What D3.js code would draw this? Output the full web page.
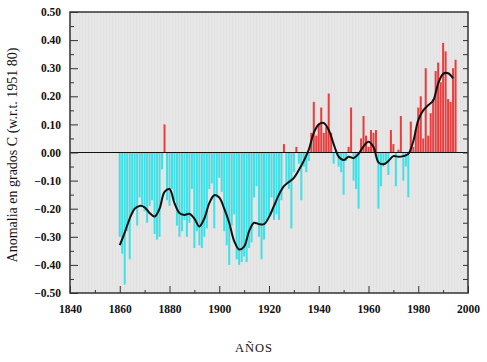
<!DOCTYPE html>
<html>
<head>
<meta charset="utf-8">
<script src="https://cdn.jsdelivr.net/npm/d3@7"></script>
<style>
  body { margin: 0; background: #fff; }
  text { font-family: "Liberation Serif", "Times New Roman", serif; }
</style>
</head>
<body>
<div id="chart"></div>
<script>
// annual anomalies 1860..1995
var firstYear = 1860
var anomalies = [
  -0.30, -0.36, -0.47, -0.28, -0.38, -0.22, -0.20, -0.26, -0.16, -0.19,
  -0.21, -0.25, -0.19, -0.17, -0.29, -0.31, -0.30, -0.06, 0.10, -0.17,
  -0.19, -0.13, -0.17, -0.26, -0.30, -0.28, -0.24, -0.30, -0.25, -0.13,
  -0.34, -0.28, -0.33, -0.34, -0.30, -0.27, -0.13, -0.11, -0.27, -0.16,
  -0.09, -0.14, -0.28, -0.33, -0.40, -0.26, -0.22, -0.38, -0.40, -0.39,
  -0.37, -0.39, -0.34, -0.32, -0.16, -0.12, -0.30, -0.38, -0.31, -0.24,
  -0.23, -0.16, -0.24, -0.22, -0.24, -0.17, 0.03, -0.11, -0.13, -0.27,
  -0.07, 0.02, -0.04, -0.17, -0.05, -0.07, -0.03, 0.07, 0.18, 0.06,
  0.10, 0.16, 0.07, 0.09, 0.21, 0.07, -0.04, 0.01, -0.05, -0.07,
  -0.15, -0.03, 0.02, 0.16, -0.10, -0.13, -0.20, 0.05, 0.13, 0.06,
  0.02, 0.08, 0.07, 0.08, -0.20, -0.12, -0.05, -0.03, -0.08, 0.08,
  0.03, -0.12, 0.01, 0.13, -0.10, -0.05, -0.16, 0.11, 0.02, 0.08,
  0.16, 0.20, 0.05, 0.30, 0.06, 0.14, 0.19, 0.29, 0.32, 0.25,
  0.39, 0.36, 0.19, 0.18, 0.30, 0.33
]

// smoothed curve, read every 2 years
var smoothYears = d3.range(1860, 1996, 2)
var smoothValues = [
  -0.33, -0.285, -0.235, -0.20, -0.19, -0.195, -0.215, -0.228, -0.20, -0.14,
  -0.13, -0.18, -0.215, -0.222, -0.218, -0.235, -0.263, -0.235, -0.18, -0.152,
  -0.16, -0.20, -0.25, -0.315, -0.345, -0.335, -0.28, -0.25, -0.255, -0.255,
  -0.23, -0.19, -0.15, -0.12, -0.105, -0.09, -0.062, -0.03, 0.01, 0.07,
  0.10, 0.105, 0.08, 0.03, -0.015, -0.027, -0.015, -0.02, -0.005, 0.022,
  0.038, 0.02, -0.035, -0.042, -0.03, -0.013, -0.015, -0.013, -0.005, 0.04,
  0.115, 0.15, 0.168, 0.185, 0.245, 0.28, 0.282, 0.264
]

var xTicks = [1840, 1860, 1880, 1900, 1920, 1940, 1960, 1980, 2000]
var yTicks = [0.5, 0.4, 0.3, 0.2, 0.1, 0, -0.1, -0.2, -0.3, -0.4, -0.5]

var width = 487, height = 362
var pLeft = 70, pRight = 468, pTop = 12, pBottom = 293

var svg = d3.select('#chart').append('svg')
  .attr('width', width).attr('height', height)

var x = d3.scaleLinear().domain([1840, 2000]).range([pLeft, pRight])
var y = d3.scaleLinear().domain([-0.5, 0.5]).range([pBottom, pTop])

svg.append('rect')
  .attr('x', pLeft).attr('y', pTop)
  .attr('width', pRight - pLeft).attr('height', pBottom - pTop)
  .attr('fill', '#e2e2e2')

// faint vertical texture
svg.append('g').selectAll('line').data(d3.range(pLeft + 2, pRight, 3))
  .enter().append('line')
    .attr('x1', d => d).attr('x2', d => d)
    .attr('y1', pTop).attr('y2', pBottom)
    .attr('stroke', '#ebebeb').attr('stroke-width', 1)

var data = anomalies.map((v, i) => ({year: firstYear + i, value: v}))

svg.append('g').selectAll('rect').data(data)
  .enter().append('rect')
    .attr('x', d => x(d.year) - 1)
    .attr('width', 2)
    .attr('y', d => y(Math.max(0, d.value)))
    .attr('height', d => Math.abs(y(d.value) - y(0)))
    .attr('fill', d => d.value < 0 ? '#3fe0e6' : '#ec3b3b')

svg.append('line')
  .attr('x1', pLeft).attr('x2', pRight)
  .attr('y1', y(0)).attr('y2', y(0))
  .attr('stroke', '#111').attr('stroke-width', 1.2)

var line = d3.line()
  .x((d, i) => x(smoothYears[i]))
  .y(d => y(d))
  .curve(d3.curveCatmullRom)

svg.append('path')
  .datum(smoothValues)
  .attr('d', line)
  .attr('fill', 'none')
  .attr('stroke', '#111')
  .attr('stroke-width', 2)

// axes: ticks pointing inward
var gl = svg.append('g').attr('transform', `translate(${pLeft},0)`)
gl.call(d3.axisLeft(y).tickValues(d3.range(-0.45, 0.5, 0.1)).tickSize(-4).tickFormat(''))
gl.append('g').call(d3.axisLeft(y).tickValues(yTicks).tickSize(-8).tickPadding(9).tickFormat(d3.format('.2f')))

var gr = svg.append('g').attr('transform', `translate(${pRight},0)`)
gr.call(d3.axisRight(y).tickValues(d3.range(-0.45, 0.5, 0.05)).tickSize(-5).tickFormat(''))

var gb = svg.append('g').attr('transform', `translate(0,${pBottom})`)
gb.call(d3.axisBottom(x).tickValues(d3.range(1850, 2000, 20)).tickSize(-3).tickFormat(''))
gb.append('g').call(d3.axisBottom(x).tickValues(xTicks).tickSize(-7).tickPadding(12).tickFormat(d3.format('d')))

svg.selectAll('.domain').remove()
svg.selectAll('.tick line').attr('stroke', '#333')
svg.selectAll('.tick text')
  .attr('font-family', '"Liberation Serif", serif')
  .attr('font-weight', 'bold').attr('font-size', 11.5).attr('fill', '#111')

svg.append('rect')
  .attr('x', pLeft).attr('y', pTop)
  .attr('width', pRight - pLeft).attr('height', pBottom - pTop)
  .attr('fill', 'none').attr('stroke', '#333').attr('stroke-width', 1.5)

svg.append('text')
  .attr('transform', `translate(17,155) rotate(-90)`)
  .attr('text-anchor', 'middle')
  .attr('font-size', 14).attr('fill', '#111')
  .text('Anomalia en grados C (w.r.t. 1951 80)')

svg.append('text')
  .attr('x', 254).attr('y', 352)
  .attr('text-anchor', 'middle')
  .attr('font-size', 12.5).attr('letter-spacing', 1).attr('fill', '#111')
  .text('AÑOS')
</script>
</body>
</html>
